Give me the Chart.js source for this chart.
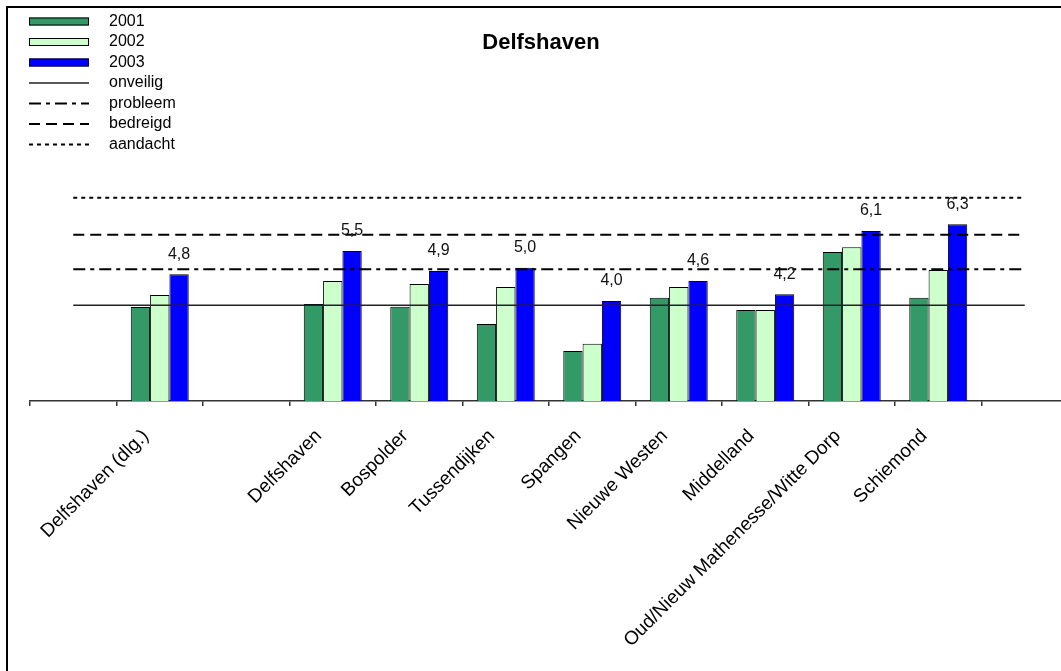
<!DOCTYPE html>
<html>
<head>
<meta charset="utf-8">
<script src="https://cdn.jsdelivr.net/npm/chart.js@4/dist/chart.umd.min.js"></script>
<style>
  html, body { margin: 0; padding: 0; background: #fff; overflow: hidden; }
  #wrap { position: relative; width: 1100px; height: 671px; }
</style>
</head>
<body>
<div id="wrap"><canvas id="chart"></canvas></div>
<script>
// categories (empty slots are gaps in the original sheet)
const categories = [
    "", "Delfshaven (dlg.)", "", "Delfshaven", "Bospolder", "Tussendijken",
    "Spangen", "Nieuwe Westen", "Middelland",
    "Oud/Nieuw Mathenesse/Witte Dorp", "Schiemond", "",
];

// index values per year
const values2001 = [null, 3.82, null, 3.91, 3.83, 3.31, 2.50, 4.10, 3.73, 5.47, 4.10, null];
const values2002 = [null, 4.18, null, 4.60, 4.51, 4.42, 2.72, 4.42, 3.73, 5.61, 4.93, null];
const values2003 = [null, 4.8, null, 5.5, 4.9, 5.0, 4.0, 4.6, 4.2, 6.1, 6.3, null];

// threshold levels
const onveilig = 3.87;
const probleem = 4.95;
const bedreigd = 5.99;
const aandacht = 7.1;

const FONT = "'Liberation Sans', Arial, sans-serif";

const flat = (v) => categories.map(() => v);

// legend, title, frame and value labels, drawn straight on the canvas
const decorations = {
    id: "decorations",
    afterDraw(chart) {
        const ctx = chart.ctx;
        ctx.save();

        // outer frame (only top and left edge are inside the picture)
        ctx.strokeStyle = "#000";
        ctx.lineWidth = 2;
        ctx.beginPath();
        ctx.moveTo(7, 700);
        ctx.lineTo(7, 7);
        ctx.lineTo(1100, 7);
        ctx.stroke();

        // title
        ctx.fillStyle = "#000";
        ctx.font = "bold 22px " + FONT;
        ctx.textAlign = "center";
        ctx.textBaseline = "middle";
        ctx.fillText("Delfshaven", 541, 43);

        // legend
        ctx.font = "16px " + FONT;
        ctx.textAlign = "left";
        chart.data.datasets.forEach((ds, i) => {
            const y = 21.5 + i * 20.5;
            if (ds.type === "line") {
                ctx.strokeStyle = ds.borderColor;
                ctx.lineWidth = ds.borderWidth;
                ctx.setLineDash(ds.borderDash || []);
                ctx.beginPath();
                ctx.moveTo(29, y);
                ctx.lineTo(89, y);
                ctx.stroke();
                ctx.setLineDash([]);
            } else {
                ctx.fillStyle = ds.backgroundColor;
                ctx.fillRect(29, y - 4, 60, 8);
                ctx.strokeStyle = "#000";
                ctx.lineWidth = 1;
                ctx.strokeRect(29.5, y - 3.5, 59, 7);
            }
            ctx.fillStyle = "#000";
            ctx.fillText(ds.label, 109, y);
        });

        // value labels above the 2003 bars
        const meta = chart.getDatasetMeta(2);
        ctx.font = "16px " + FONT;
        ctx.textAlign = "center";
        ctx.fillStyle = "#111";
        meta.data.forEach((bar, i) => {
            const v = values2003[i];
            if (v == null) return;
            ctx.fillText(v.toFixed(1).replace(".", ","), bar.x, bar.y - 20);
        });

        ctx.restore();
    },
};

const barDefaults = {
    type: "bar",
    borderColor: "#000",
    borderWidth: 1,
    borderSkipped: "bottom",
    categoryPercentage: 0.67,
    barPercentage: 1.0,
    order: 2,
};

const lineDefaults = {
    type: "line",
    borderColor: "#000",
    pointRadius: 0,
    fill: false,
    tension: 0,
    order: 1,
};

new Chart(document.getElementById("chart"), {
    data: {
        labels: categories,
        datasets: [
            { ...barDefaults, label: "2001", data: values2001, backgroundColor: "#339966" },
            { ...barDefaults, label: "2002", data: values2002, backgroundColor: "#CCFFCC" },
            { ...barDefaults, label: "2003", data: values2003, backgroundColor: "#0000FF" },
            { ...lineDefaults, label: "onveilig", data: flat(onveilig), borderWidth: 1.5, borderColor: "#222" },
            { ...lineDefaults, label: "probleem", data: flat(probleem), borderWidth: 2, borderDash: [12, 5, 4, 5] },
            { ...lineDefaults, label: "bedreigd", data: flat(bedreigd), borderWidth: 2, borderDash: [11, 6] },
            { ...lineDefaults, label: "aandacht", data: flat(aandacht), borderWidth: 2, borderDash: [4, 4] },
        ],
    },
    options: {
        responsive: true,
        maintainAspectRatio: false,
        animation: false,
        layout: { padding: { top: 101, left: 30, right: 32, bottom: 0 } },
        plugins: {
            legend: { display: false },
            title: { display: false },
            tooltip: { enabled: false },
        },
        scales: {
            x: {
                offset: true,
                grid: {
                    offset: true,
                    drawOnChartArea: false,
                    drawTicks: true,
                    tickLength: 5,
                    color: "#333",
                    lineWidth: 1.5,
                },
                border: { display: true, color: "#333", width: 1.5 },
                ticks: {
                    autoSkip: false,
                    maxRotation: 45,
                    minRotation: 45,
                    padding: 19,
                    labelOffset: -14,
                    color: "#000",
                    font: { family: FONT, size: 19 },
                },
                afterFit(scale) {
                    scale.height = 270;
                },
            },
            y: {
                display: false,
                min: 1,
                max: 10,
            },
        },
    },
    plugins: [decorations],
});
</script>
</body>
</html>
